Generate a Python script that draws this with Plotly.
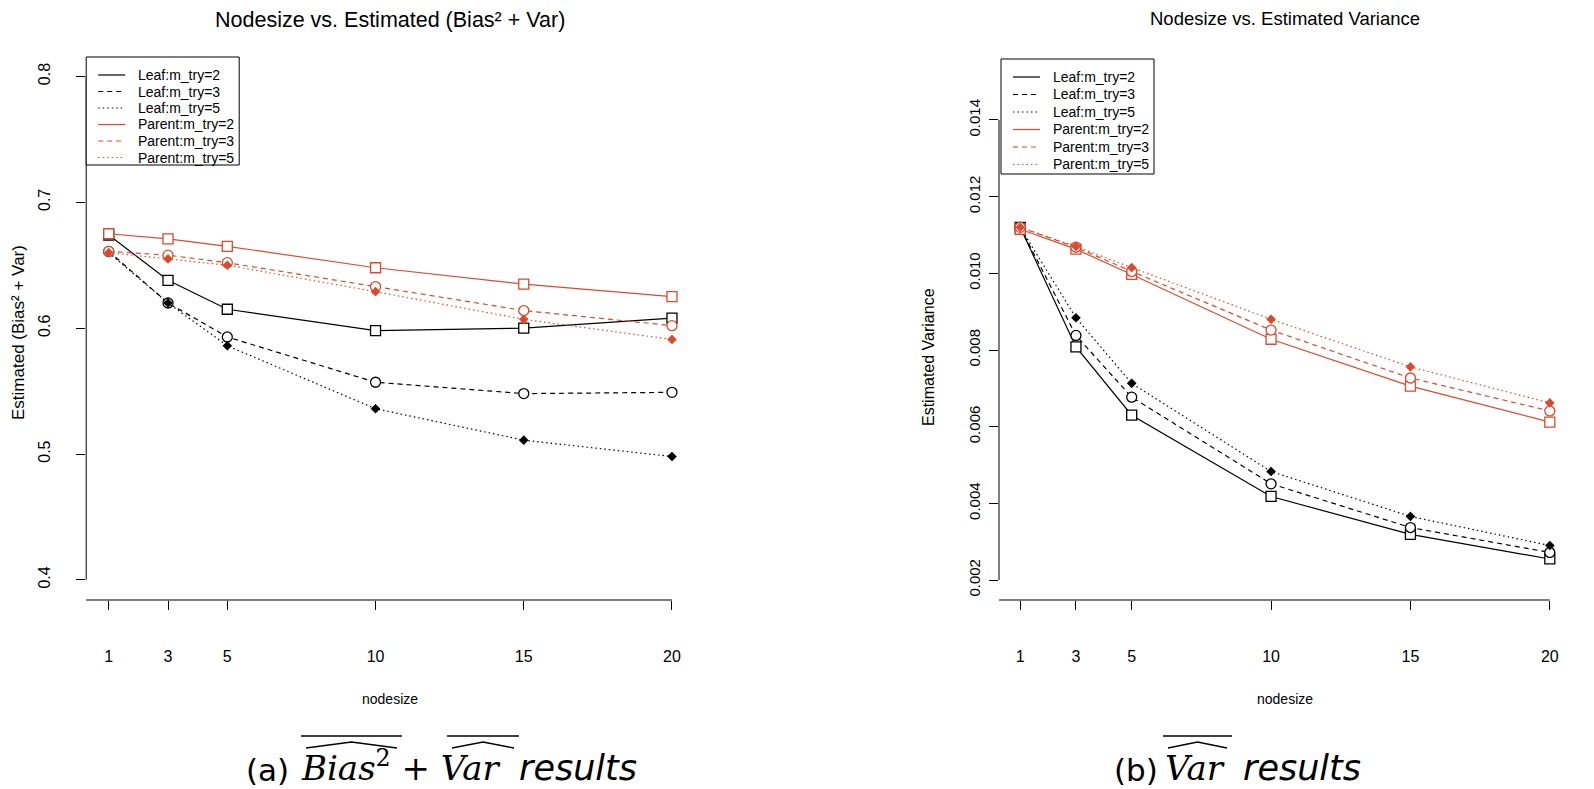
import plotly.graph_objects as go

# ---------------- data ----------------
nodesize = [1, 3, 5, 10, 15, 20]
series_names = ["Leaf:m_try=2", "Leaf:m_try=3", "Leaf:m_try=5",
                "Parent:m_try=2", "Parent:m_try=3", "Parent:m_try=5"]

# (a) Estimated (Bias^2 + Var)
bv_leaf_m2 = [0.674, 0.638, 0.615, 0.598, 0.600, 0.608]
bv_leaf_m3 = [0.661, 0.620, 0.593, 0.557, 0.548, 0.549]
bv_leaf_m5 = [0.660, 0.620, 0.586, 0.536, 0.511, 0.498]
bv_par_m2 = [0.675, 0.671, 0.665, 0.648, 0.635, 0.625]
bv_par_m3 = [0.661, 0.658, 0.652, 0.633, 0.614, 0.602]
bv_par_m5 = [0.660, 0.655, 0.650, 0.629, 0.607, 0.591]

# (b) Estimated Variance
var_leaf_m2 = [0.01120, 0.00808, 0.00630, 0.00418, 0.00319, 0.00255]
var_leaf_m3 = [0.01120, 0.00838, 0.00677, 0.00451, 0.00337, 0.00272]
var_leaf_m5 = [0.01120, 0.00884, 0.00713, 0.00483, 0.00366, 0.00290]
var_par_m2 = [0.01115, 0.01063, 0.00997, 0.00828, 0.00706, 0.00612]
var_par_m3 = [0.01120, 0.01068, 0.01005, 0.00852, 0.00727, 0.00641]
var_par_m5 = [0.01120, 0.01070, 0.01015, 0.00880, 0.00756, 0.00662]

x_ticks = [1, 3, 5, 10, 15, 20]
x_ticklabels = ["1", "3", "5", "10", "15", "20"]
left_yticks = [0.4, 0.5, 0.6, 0.7, 0.8]
left_yticklabels = ["0.4", "0.5", "0.6", "0.7", "0.8"]
right_yticks = [0.002, 0.004, 0.006, 0.008, 0.010, 0.012, 0.014]
right_yticklabels = ["0.002", "0.004", "0.006", "0.008", "0.010", "0.012", "0.014"]

left_series = [bv_leaf_m2, bv_leaf_m3, bv_leaf_m5, bv_par_m2, bv_par_m3, bv_par_m5]
right_series = [var_leaf_m2, var_leaf_m3, var_leaf_m5, var_par_m2, var_par_m3, var_par_m5]

# ---------------- styles / geometry ----------------
PAGE_W, PAGE_H = 1594, 789
OFF = 8                       # default body margin of the html page
FW, FH = PAGE_W - OFF, PAGE_H - OFF
BLACK = "#000000"
RED = "#DB4A2D"
FONT = "Liberation Sans"
styles = [
    dict(color=BLACK, dash="solid", symbol="square", size=10, fill="white"),
    dict(color=BLACK, dash="5px,4px", symbol="circle", size=10, fill="white"),
    dict(color=BLACK, dash="1.5px,3px", symbol="diamond", size=6, fill=BLACK),
    dict(color=RED, dash="solid", symbol="square", size=10, fill="white"),
    dict(color=RED, dash="5px,4px", symbol="circle", size=10, fill="white"),
    dict(color=RED, dash="1.5px,3px", symbol="diamond", size=6, fill=RED),
]

def px(x):
    return (x - OFF) / FW

def py(y):
    return 1 - (y - OFF) / FH

# panel geometry (page pixels)
L_X0, L_X1 = 86.2, 694.5
R_X0, R_X1 = 999.0, 1571.0
P_Y0, P_Y1 = 56.3, 600.0
X_RANGE = [0.24, 20.76]
L_YRANGE = [0.384, 0.816]
R_YRANGE = [0.00148, 0.01566]

fig = go.Figure()

panels = [(left_series, "x", "y"), (right_series, "x2", "y2")]
for series, xa, ya in panels:
    for name, vals, st in zip(series_names, series, styles):
        fig.add_trace(go.Scatter(
            x=nodesize, y=vals, mode="lines+markers", xaxis=xa, yaxis=ya, name=name,
            line=dict(color=st["color"], width=1.2, dash=st["dash"]),
            marker=dict(symbol=st["symbol"], size=st["size"], color=st["fill"],
                        line=dict(width=1.3, color=st["color"])),
            showlegend=False, hoverinfo="skip", cliponaxis=False))

axis_common = dict(showgrid=False, zeroline=False, showline=False, ticks="outside",
                   ticklen=9, tickwidth=1, tickcolor=BLACK)

fig.update_layout(
    width=FW, height=FH, margin=dict(l=0, r=0, t=0, b=0),
    paper_bgcolor="white", plot_bgcolor="white", showlegend=False,
    xaxis=dict(domain=[px(L_X0), px(L_X1)], range=X_RANGE, anchor="y",
               tickvals=x_ticks, ticktext=x_ticklabels, ticklabelstandoff=33,
               tickfont=dict(family=FONT, size=16, color=BLACK), **axis_common),
    yaxis=dict(domain=[py(P_Y1), py(P_Y0)], range=L_YRANGE, anchor="x",
               tickvals=left_yticks, ticktext=left_yticklabels, tickangle=-90,
               ticklabelstandoff=20, tickfont=dict(family=FONT, size=16, color=BLACK),
               **axis_common),
    xaxis2=dict(domain=[px(R_X0), px(R_X1)], range=X_RANGE, anchor="y2",
                tickvals=x_ticks, ticktext=x_ticklabels, ticklabelstandoff=33,
                tickfont=dict(family=FONT, size=16, color=BLACK), **axis_common),
    yaxis2=dict(domain=[py(P_Y1), py(P_Y0)], range=R_YRANGE, anchor="x2",
                tickvals=right_yticks, ticktext=right_yticklabels, tickangle=-90,
                ticklabelstandoff=3, tickfont=dict(family=FONT, size=15, color=BLACK),
                **axis_common),
)

def ymap(v, rng):
    return P_Y1 - (v - rng[0]) / (rng[1] - rng[0]) * (P_Y1 - P_Y0)

def xmap(v, x0, x1):
    return x0 + (v - X_RANGE[0]) / (X_RANGE[1] - X_RANGE[0]) * (x1 - x0)

def seg(x0, y0, x1, y1, width=1.0, dash="solid", color=BLACK):
    return dict(type="line", xref="paper", yref="paper", x0=px(x0), x1=px(x1),
                y0=py(y0), y1=py(y1), line=dict(color=color, width=width, dash=dash))

shapes = []
ann = []

def add_text(text, x, y, size, angle=0, family=FONT, xanchor="center", yanchor="middle", pad=1):
    ann.append(dict(text=text, x=px(x), y=py(y), xref="paper", yref="paper",
                    showarrow=False, textangle=angle, xanchor=xanchor, yanchor=yanchor,
                    borderpad=pad, font=dict(family=family, size=size, color=BLACK)))

# R-style axis lines
for (x0, x1, rng, yt) in [(L_X0, L_X1, L_YRANGE, left_yticks), (R_X0, R_X1, R_YRANGE, right_yticks)]:
    shapes.append(seg(x0, ymap(yt[0], rng), x0, ymap(yt[-1], rng)))
    shapes.append(seg(x0, P_Y1, xmap(x_ticks[-1], x0, x1), P_Y1))

# legends (R-style boxes with line samples)
def legend_box(bx0, by0, step, height):
    bx1, by1 = bx0 + 153, by0 + height
    shapes.append(dict(type="rect", xref="paper", yref="paper",
                       x0=px(bx0), x1=px(bx1), y0=py(by1), y1=py(by0),
                       line=dict(color=BLACK, width=1), fillcolor="white", layer="above"))
    for i, (name, st) in enumerate(zip(series_names, styles)):
        yy = by0 + 18 + i * step
        shapes.append(seg(bx0 + 12, yy, bx0 + 39, yy, width=1.2, dash=st["dash"], color=st["color"]))
        add_text(name, bx0 + 50, yy, 14, xanchor="left")

legend_box(L_X0, 57, 16.5, 108)
legend_box(R_X0 + 2, 59, 17.5, 115)

# titles / axis titles
add_text("Nodesize vs. Estimated (Bias\u00b2 + Var)", (L_X0 + L_X1) / 2, 20, 21.5)
add_text("Nodesize vs. Estimated Variance", (R_X0 + R_X1) / 2, 19, 18.5)
add_text("Estimated (Bias\u00b2 + Var)", 18, 333, 17, angle=-90)
add_text("Estimated Variance", 928, 357, 16, angle=-90)
add_text("nodesize", (L_X0 + L_X1) / 2, 699, 14)
add_text("nodesize", (R_X0 + R_X1) / 2, 699, 14)

# captions
CAP_BOTTOM = 789
add_text("(a)", 245, CAP_BOTTOM, 31, family="DejaVu Sans", xanchor="left", yanchor="bottom", pad=0)
add_text("<i>Bias</i><sup>2</sup> + <i>Var</i>", 300, CAP_BOTTOM, 34, family="DejaVu Serif",
         xanchor="left", yanchor="bottom", pad=0)
add_text("<i>results</i>", 518, CAP_BOTTOM, 35, family="DejaVu Sans", xanchor="left",
         yanchor="bottom", pad=0)
add_text("(b)", 1113, CAP_BOTTOM, 31, family="DejaVu Sans", xanchor="left", yanchor="bottom", pad=0)
add_text("<i>Var</i>", 1164, CAP_BOTTOM, 34, family="DejaVu Serif", xanchor="left",
         yanchor="bottom", pad=0)
add_text("<i>results</i>", 1242, CAP_BOTTOM, 35, family="DejaVu Sans", xanchor="left",
         yanchor="bottom", pad=0)

def overhat(xa, xb, top=736):
    shapes.append(seg(xa, top, xb, top, width=1.6))
    xm = (xa + xb) / 2
    path = "M {} {} L {} {} L {} {}".format(px(xa + 5), py(top + 12), px(xm), py(top + 6),
                                            px(xb - 5), py(top + 12))
    shapes.append(dict(type="path", xref="paper", yref="paper", path=path,
                       line=dict(color=BLACK, width=1.4)))

overhat(301, 402)
overhat(447, 519)
overhat(1163, 1232)

fig.update_layout(shapes=shapes, annotations=ann)
fig.write_html("out.html")
